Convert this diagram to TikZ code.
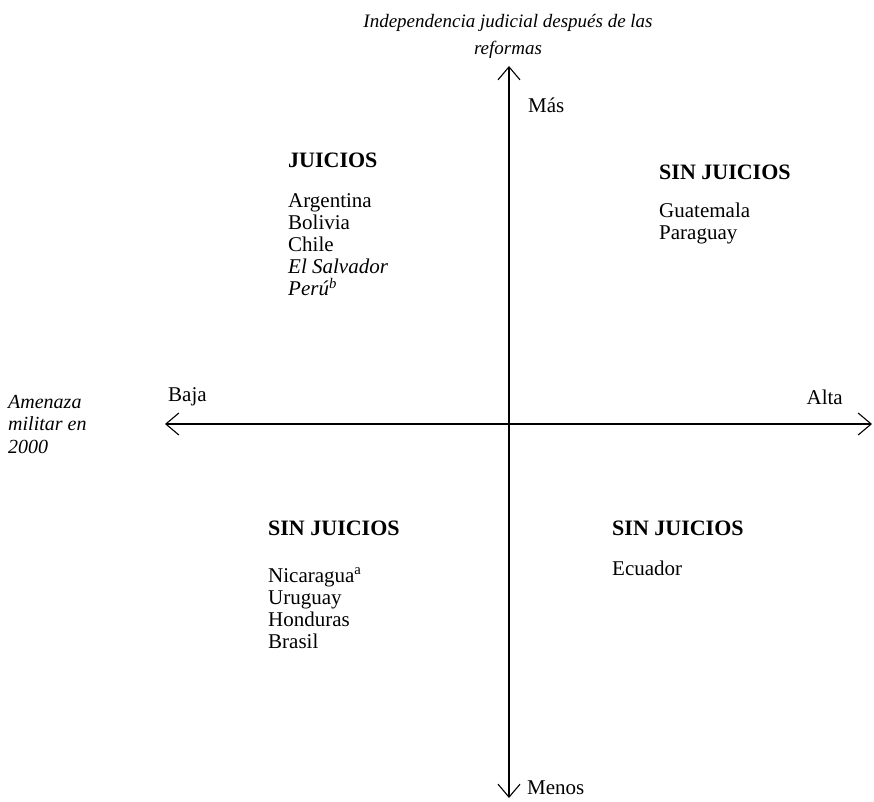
\documentclass[tikz,border=0pt]{standalone}
\usepackage{fontspec}
\setmainfont{Liberation Serif}
\usetikzlibrary{arrows.meta,positioning}

\tikzset{
  eje/.style={line width=1.1pt, {Straight Barb[length=13pt,width=22pt]}-{Straight Barb[length=13pt,width=22pt]}},
  txt/.style={inner sep=0pt, font=\fontsize{21}{22}\selectfont},
  titulo/.style={txt, font=\fontsize{22}{22}\selectfont\bfseries},
  lista/.style={txt, align=left, anchor=north west}
}

\begin{document}
\begin{tikzpicture}[x=1pt, y=-1pt]
  \useasboundingbox (0,0) rectangle (874,801);

  % ejes
  \coordinate (arriba) at (509,66);
  \coordinate (abajo) at (509,798);
  \coordinate (izq) at (165,424);
  \coordinate (der) at (872,424);
  \draw[eje] (abajo) -- (arriba);
  \draw[eje] (izq) -- (der);

  % etiquetas de los ejes
  \node[txt, align=center, font=\fontsize{19}{27}\selectfont\itshape] (indep) at (508,36) {Independencia judicial después de las\\reformas};
  \node[txt, anchor=west] (mas) at (528,105) {Más};
  \node[txt, anchor=west] (menos) at (527,788) {Menos};
  \node[txt, anchor=west] (baja) at (168,397) {Baja};
  \node[txt, anchor=east] (alta) at (843,397) {Alta};
  \node[txt, align=left, anchor=north west, font=\fontsize{20}{22.5}\selectfont\itshape] (amenaza) at (8,395) {Amenaza\\militar en\\2000};

  % cuadrantes
  \node[titulo, anchor=west] (juicios) at (288,160) {JUICIOS};
  \node[lista, below=26pt of juicios.south west, anchor=north west] (paisesA) {Argentina\\Bolivia\\Chile\\\textit{El Salvador}\\\textit{Perú\textsuperscript{b}}};

  \node[titulo, anchor=west] (sinB) at (659,172) {SIN JUICIOS};
  \node[lista, below=23pt of sinB.south west, anchor=north west] (paisesB) {Guatemala\\Paraguay};

  \node[titulo, anchor=west] (sinC) at (268,528) {SIN JUICIOS};
  \node[lista, below=32pt of sinC.south west, anchor=north west] (paisesC) {Nicaragua\textsuperscript{a}\\Uruguay\\Honduras\\Brasil};

  \node[titulo, anchor=west] (sinD) at (612,528) {SIN JUICIOS};
  \node[lista, below=25pt of sinD.south west, anchor=north west] (paisesD) {Ecuador};
\end{tikzpicture}
\end{document}
